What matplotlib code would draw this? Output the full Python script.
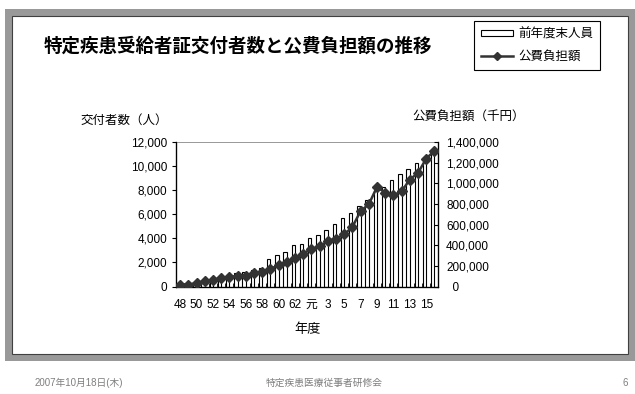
"""特定疾患受給者証交付者数と公費負担額の推移 — slide chart recreation."""
import numpy as np
import matplotlib
matplotlib.use("Agg")
import matplotlib.pyplot as plt
from matplotlib.patches import Rectangle
from matplotlib.lines import Line2D
from matplotlib.ticker import FuncFormatter, FixedLocator

plt.rcParams["font.family"] = ["Liberation Sans", "Noto Sans CJK JP", "DejaVu Sans"]

# fiscal years: Showa 48-63, then Heisei 元-16
YEARS = [str(y) for y in range(48, 64)] + ["元"] + [str(y) for y in range(2, 17)]
# 前年度末人員 (persons, left axis)
HOLDERS = [150, 200, 280, 380, 480, 580, 750, 1100, 1190, 1390, 1520,
           2300, 2640, 2830, 3410, 3550, 4020, 4300, 4720, 5220, 5700,
           6120, 6660, 7220, 7930, 8300, 8880, 9380, 9760, 10280, 10760, 11300]
# 公費負担額 (thousand yen, right axis)
COST = [19000, 19000, 32000, 49000, 65000, 78000, 91000, 104000, 104000,
        129000, 139000, 172000, 204000, 236000, 278000, 317000, 366000,
        388000, 440000, 463000, 505000, 576000, 731000, 796000, 964000,
        909000, 883000, 922000, 1036000, 1100000, 1239000, 1314000]

W, H = 635, 394
fig = plt.figure(figsize=(W / 100, H / 100), dpi=100)
fig.patch.set_facecolor("white")

# slide frame: gray band with a dark inner border
fig.patches.append(Rectangle((5 / W, 1 - 361 / H), 630 / W, 352 / H,
                             transform=fig.transFigure, facecolor="#999999",
                             edgecolor="none", zorder=-3))
fig.patches.append(Rectangle((12 / W, 1 - 354 / H), 616 / W, 338 / H,
                             transform=fig.transFigure, facecolor="white",
                             edgecolor="#404040", linewidth=0.8, zorder=-2))

ax = fig.add_axes([176 / W, 1 - 286.5 / H, 262.5 / W, 144.5 / H])
x = np.arange(len(YEARS))
ax.bar(x - 0.2, HOLDERS, width=0.42, facecolor="white", edgecolor="black",
       linewidth=0.8, zorder=2)
ax.set_xlim(-0.5, len(YEARS) - 0.5)
ax.set_ylim(0, 12000)
ax.set_yticks(np.arange(0, 12001, 2000))
ax.yaxis.set_major_formatter(FuncFormatter(lambda v, p: f"{int(v):,}"))
ax.set_xticks(x[::2])
ax.set_xticklabels(YEARS[::2])
ax.xaxis.set_minor_locator(FixedLocator(np.arange(-0.5, len(YEARS), 1)))
ax.tick_params(axis="x", which="major", length=0, pad=9, labelsize=8.5)
ax.tick_params(axis="x", which="minor", length=3, direction="in", width=0.6)
ax.tick_params(axis="y", length=3, width=0.8, labelsize=8.5, pad=3.5)
ax.spines["top"].set_color("#888888")
ax.spines["top"].set_linewidth(0.6)
for s in ("left", "bottom"):
    ax.spines[s].set_linewidth(0.9)

ax2 = ax.twinx()
ax2.plot(x, COST, color="#333333", linewidth=1.8, marker="D", markersize=5.5,
         markerfacecolor="#333333", markeredgecolor="#333333", zorder=3)
ax2.set_ylim(0, 1400000)
ax2.set_yticks(np.arange(0, 1400001, 200000))
ax2.yaxis.set_major_formatter(
    FuncFormatter(lambda v, p: f"{int(v):,}" if v > 0 else "  0"))
ax2.tick_params(axis="y", length=3, width=0.8, direction="in", labelsize=8.5, pad=5.5)
ax2.spines["right"].set_linewidth(0.9)
ax2.spines["top"].set_visible(False)

ax.set_xlabel("年度", fontsize=9.5, labelpad=9)

fig.text(44 / W, 1 - 46 / H, "特定疾患受給者証交付者数と公費負担額の推移",
         fontsize=13.3, fontweight="bold", va="center", ha="left")
fig.text(124 / W, 1 - 121 / H, "交付者数（人）", fontsize=9, ha="center", va="center")
fig.text(469 / W, 1 - 117 / H, "公費負担額（千円）", fontsize=9, ha="center", va="center")

handles = [Rectangle((0, 0), 1, 1, facecolor="white", edgecolor="black", linewidth=0.8),
           Line2D([], [], color="#333333", linewidth=1.8, marker="D",
                  markersize=4.5, markerfacecolor="#333333")]
leg = fig.legend(handles, ["前年度末人員", "公費負担額"], loc="upper right",
                 bbox_to_anchor=(600 / W, 1 - 21 / H), fontsize=9,
                 fancybox=False, framealpha=1, edgecolor="black",
                 handlelength=2.6, handleheight=0.4, labelspacing=0.85,
                 borderpad=0.55, handletextpad=0.4, borderaxespad=0)
leg.get_frame().set_linewidth(0.8)

fig.text(35 / W, 1 - 383 / H, "2007年10月18日(木)", fontsize=7, color="#7f7f7f",
         ha="left", va="center")
fig.text(324 / W, 1 - 383 / H, "特定疾患医療従事者研修会", fontsize=7, color="#7f7f7f",
         ha="center", va="center")
fig.text(625 / W, 1 - 383 / H, "6", fontsize=7, color="#7f7f7f",
         ha="center", va="center")

fig.savefig("out.png", dpi=100)
